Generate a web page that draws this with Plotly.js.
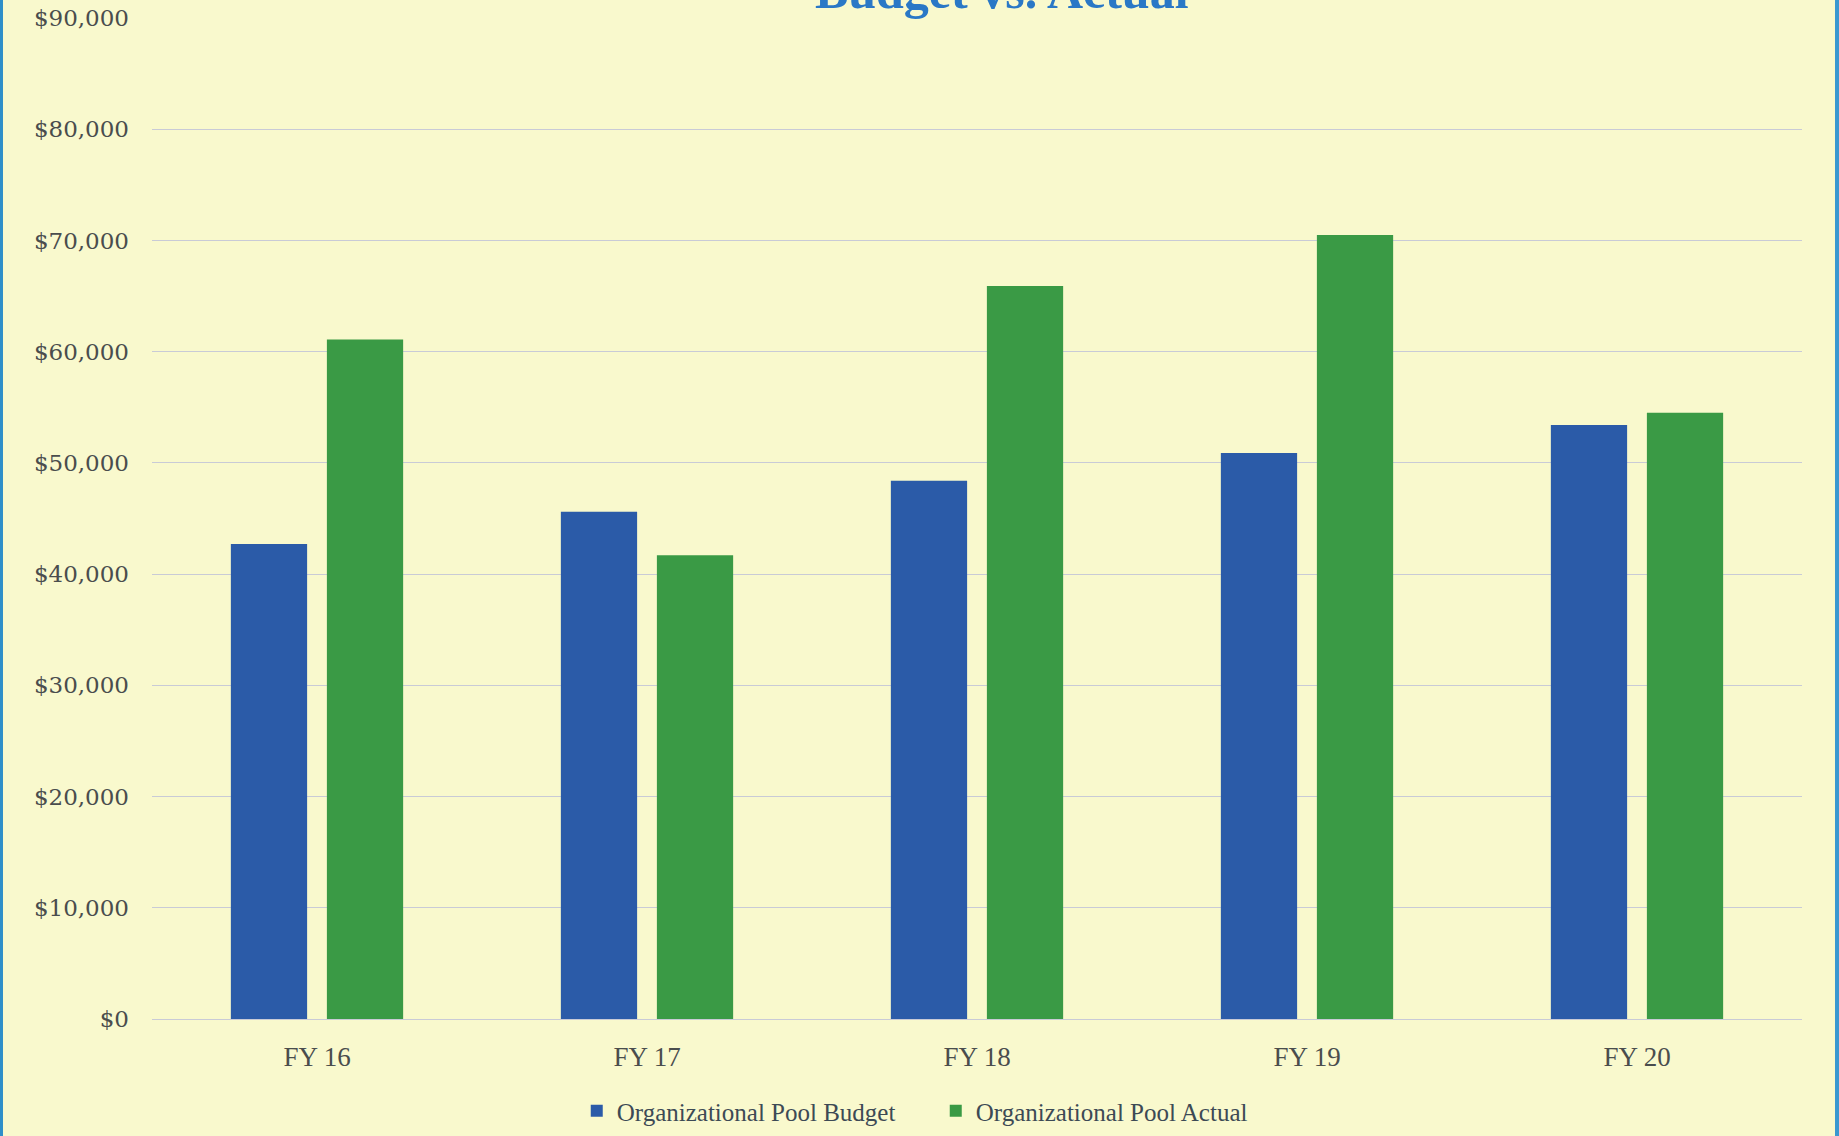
<!DOCTYPE html>
<html>
<head>
<meta charset="utf-8">
<script src="https://cdn.plot.ly/plotly-3.0.1.min.js"></script>
<style>
  html, body { margin: 0; padding: 0; background: #f9f9cd; }
  #chart { width: 1839px; height: 1136px; box-sizing: border-box; border-left: 3px solid #2f8fc8; border-right: 4px solid #3a98d0; }
</style>
</head>
<body>
<div id="chart"></div>
<script>
const categories = ["FY 16", "FY 17", "FY 18", "FY 19", "FY 20"];
const budgetValues = [42700, 45600, 48400, 50900, 53400];
const actualValues = [61100, 41700, 65900, 70500, 54500];
const seriesNames = ["Organizational Pool Budget", "Organizational Pool Actual"];
const yTickValues = [0, 10000, 20000, 30000, 40000, 50000, 60000, 70000, 80000, 90000];
const yTickLabels = ["$0", "$10,000", "$20,000", "$30,000", "$40,000", "$50,000", "$60,000", "$70,000", "$80,000", "$90,000"];
const chartTitle = "Budget vs. Actual";

const traces = [
  { type: "bar", name: seriesNames[0], x: categories, y: budgetValues,
    marker: { color: "#2b5ba8" }, hoverinfo: "x+y" },
  { type: "bar", name: seriesNames[1], x: categories, y: actualValues,
    marker: { color: "#3a9a45" }, hoverinfo: "x+y" }
];

const layout = {
  width: 1832, height: 1136,
  paper_bgcolor: "#f9f9cd",
  plot_bgcolor: "#f9f9cd",
  margin: { l: 149, r: 33, t: 18, b: 117, autoexpand: false },
  barmode: "group",
  bargap: 0.418,
  bargroupgap: 0.206,
  title: {
    text: "<b>" + chartTitle + "</b>",
    font: { family: "Liberation Serif, serif", size: 50, color: "#2a78c6" },
    xref: "paper", x: 0.515, xanchor: "center",
    yref: "paper", y: 1, yanchor: "bottom",
    pad: { b: 10 }
  },
  xaxis: {
    type: "category",
    showgrid: false,
    showline: false,
    zeroline: false,
    ticks: "",
    ticklabelstandoff: 19,
    tickfont: { family: "Liberation Serif, serif", size: 27, color: "#4a4d4d" }
  },
  yaxis: {
    range: [0, 90000],
    tickvals: yTickValues,
    ticktext: yTickLabels,
    showgrid: true,
    gridcolor: "#c9cbd6",
    gridwidth: 1,
    zeroline: true,
    zerolinecolor: "#c9cbd6",
    zerolinewidth: 1,
    showline: false,
    ticks: "",
    ticklabelstandoff: 22,
    tickfont: { family: "DejaVu Serif, serif", size: 23, color: "#4a4d4d" }
  },
  showlegend: true,
  legend: {
    orientation: "h",
    xref: "paper", x: 0.475, xanchor: "center",
    yref: "container", y: 0.022, yanchor: "middle",
    font: { family: "Liberation Serif, serif", size: 25, color: "#3d4a55" },
    itemwidth: 30,
    entrywidth: 314,
    entrywidthmode: "pixels",
    tracegroupgap: 0
  }
};

Plotly.newPlot("chart", traces, layout, { displayModeBar: false, staticPlot: true });
</script>
</body>
</html>
